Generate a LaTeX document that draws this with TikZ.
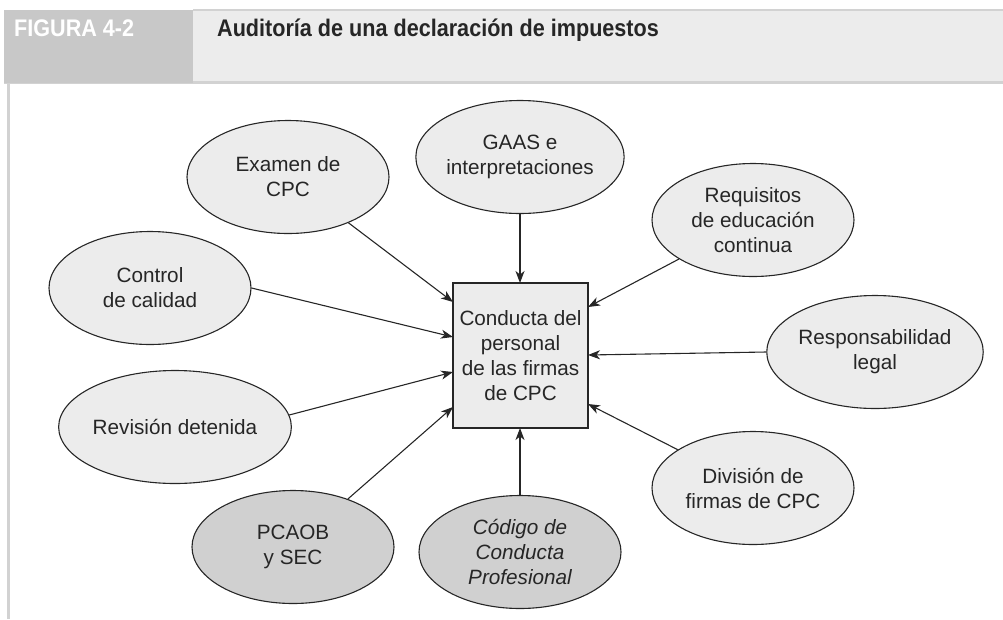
\documentclass[tikz,border=0pt]{standalone}
\usepackage{fontspec}
\setmainfont{Liberation Sans}
\newfontfamily\hdrfont[FakeStretch=0.9]{Liberation Sans}
\usetikzlibrary{shapes.geometric,arrows.meta}
\definecolor{lightfill}{HTML}{ECECEC}
\definecolor{darkfill}{HTML}{D0D0D0}
\definecolor{hdrgray}{HTML}{C8C8C8}
\definecolor{rulegray}{HTML}{D2D2D2}
\definecolor{inkgray}{HTML}{262626}
\begin{document}
\begin{tikzpicture}[x=1pt,y=-1pt,
  bubble/.style={ellipse, draw=inkgray, line width=1.1pt, fill=lightfill,
    minimum width=202pt, minimum height=113pt, inner sep=0pt, align=center,
    text=inkgray, font=\fontsize{20.7}{25}\selectfont},
  darkbubble/.style={bubble, fill=darkfill},
  centerbox/.style={draw=inkgray, line width=1.1pt, fill=lightfill,
    minimum width=135pt, minimum height=145pt, inner sep=0pt, align=center,
    text=inkgray, font=\fontsize{20.7}{25}\selectfont},
  arr/.style={draw=inkgray, line width=1.1pt,
    -{Stealth[length=12pt,width=9pt,inset=3.5pt]}},
  hdrtext/.style={anchor=base west, inner sep=0pt, font=\hdrfont\bfseries\fontsize{24}{28}\selectfont}
]
\useasboundingbox (0,0) rectangle (1003,619);
% header
\fill[lightfill] (193,10) rectangle (1003,83);
\fill[rulegray] (193,8.5) rectangle (1003,11);
\fill[rulegray] (4,81) rectangle (1003,84);
\fill[hdrgray] (4,10) rectangle (193,83);
\fill[rulegray] (7,84) rectangle (10,619);
\node[hdrtext, text=white] (fig) at (14,36) {FIGURA 4-2};
\node[hdrtext, text=inkgray] (title) at (217,36) {Auditoría de una declaración de impuestos};
% center box
\node[centerbox] (box) at (520.5,355.5) {Conducta del\\personal\\de las firmas\\de CPC};
% ellipses
\node[bubble] (exam) at (288,177) {Examen de\\CPC};
\node[bubble] (gaas) at (520,157) {GAAS e\\interpretaciones};
\node[bubble] (req) at (753,220) {Requisitos\\de educación\\continua};
\node[bubble] (ctrl) at (150,288) {Control\\de calidad};
\node[bubble] (resp) at (875,352) {Responsabilidad\\legal};
\node[bubble] (rev) at (175,427) {Revisión detenida};
\node[bubble] (div) at (753,488) {División de\\firmas de CPC};
\node[darkbubble] (pcaob) at (293,547) {PCAOB\\y SEC};
\node[darkbubble] (code) at (520,552) {\itshape Código de\\\itshape Conducta\\\itshape Profesional};
% arrow targets on the box
\coordinate (tEx) at (453,302);
\coordinate (tCtrl) at (453,337);
\coordinate (tRev) at (453,372);
\coordinate (tPc) at (453,407);
\coordinate (tGa) at (520,283);
\coordinate (tCo) at (520,428);
\coordinate (tReq) at (588,307);
\coordinate (tResp) at (588,355);
\coordinate (tDiv) at (588,404);
% connectors
\draw[arr] (exam) -- (tEx);
\draw[arr] (ctrl.east) -- (tCtrl);
\draw[arr] (rev.6) -- (tRev);
\draw[arr] (pcaob) -- (tPc);
\draw[arr] (gaas) -- (tGa);
\draw[arr] (code) -- (tCo);
\draw[arr] (req) -- (tReq);
\draw[arr] (resp.west) -- (tResp);
\draw[arr] (div) -- (tDiv);
\end{tikzpicture}
\end{document}
